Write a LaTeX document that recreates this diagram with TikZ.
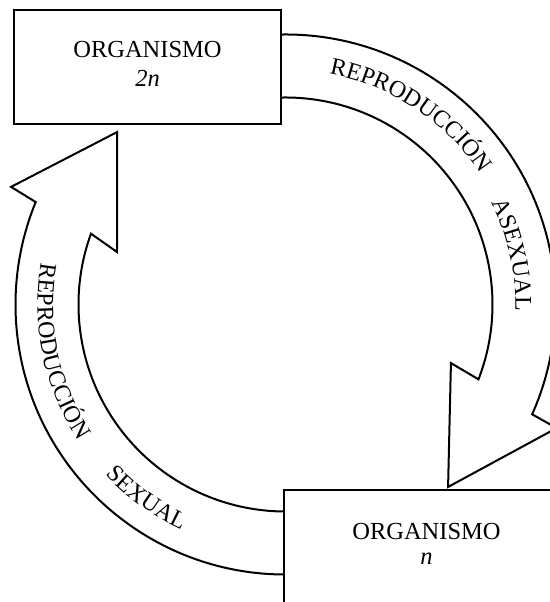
\documentclass[tikz,border=0pt]{standalone}
\usepackage{fontspec}
\setmainfont{Liberation Serif}
\usetikzlibrary{decorations.text}
\newcommand\arctext{\fontsize{24}{28}\selectfont}

\tikzset{
  organbox/.style={draw, line width=2pt, fill=white, align=center,
    font=\fontsize{24.5}{29}\selectfont, text depth=6pt, minimum height=114pt},
  band/.style={draw, line width=2pt, fill=white, line join=miter}
}

\begin{document}
\begin{tikzpicture}[x=1pt,y=1pt]
\useasboundingbox (0,0) rectangle (549,602);
\begin{scope}[shift={(285.5,297.5)}]
% 2n -> n
\draw [band] (93:270) arc[start angle=93, end angle=-24, radius=270] -- (-24.5:298) -- (-48.3:244.4) -- (-19.5:175.5) -- (-21.2:207) arc[start angle=-21.2, end angle=93, radius=207] -- cycle;
% n -> 2n
\draw [band] (273:270) arc[start angle=273, end angle=157.7, radius=270] -- (156.8:298.6) -- (134.3:241) -- (162.7:176.5) -- (160:207) arc[start angle=160, end angle=273, radius=207] -- cycle;
\path [decorate, decoration={text along path, text align=center, text={|\arctext|REPRODUCCIÓN}}] (80:235) arc[start angle=80, end angle=33, radius=235];
\path [decorate, decoration={text along path, text align=center, text={|\arctext|ASEXUAL}}] (28:230) arc[start angle=28, end angle=-3.2, radius=230];
\path [decorate, decoration={text along path, text align=center, text={|\arctext|REPRODUCCIÓN}}] (169:248) arc[start angle=169, end angle=214.6, radius=248];
\path [decorate, decoration={text along path, text align=center, text={|\arctext|SEXUAL}}] (222:248) arc[start angle=222, end angle=246.6, radius=248];
\end{scope}
\node [organbox, minimum width=267pt] (diploid) at (147.5,535) {ORGANISMO\\ \textit{2n}};
\node [organbox, minimum width=285pt] (haploid) at (426.5,55) {ORGANISMO\\[-4pt] \textit{n}};
\end{tikzpicture}
\end{document}
